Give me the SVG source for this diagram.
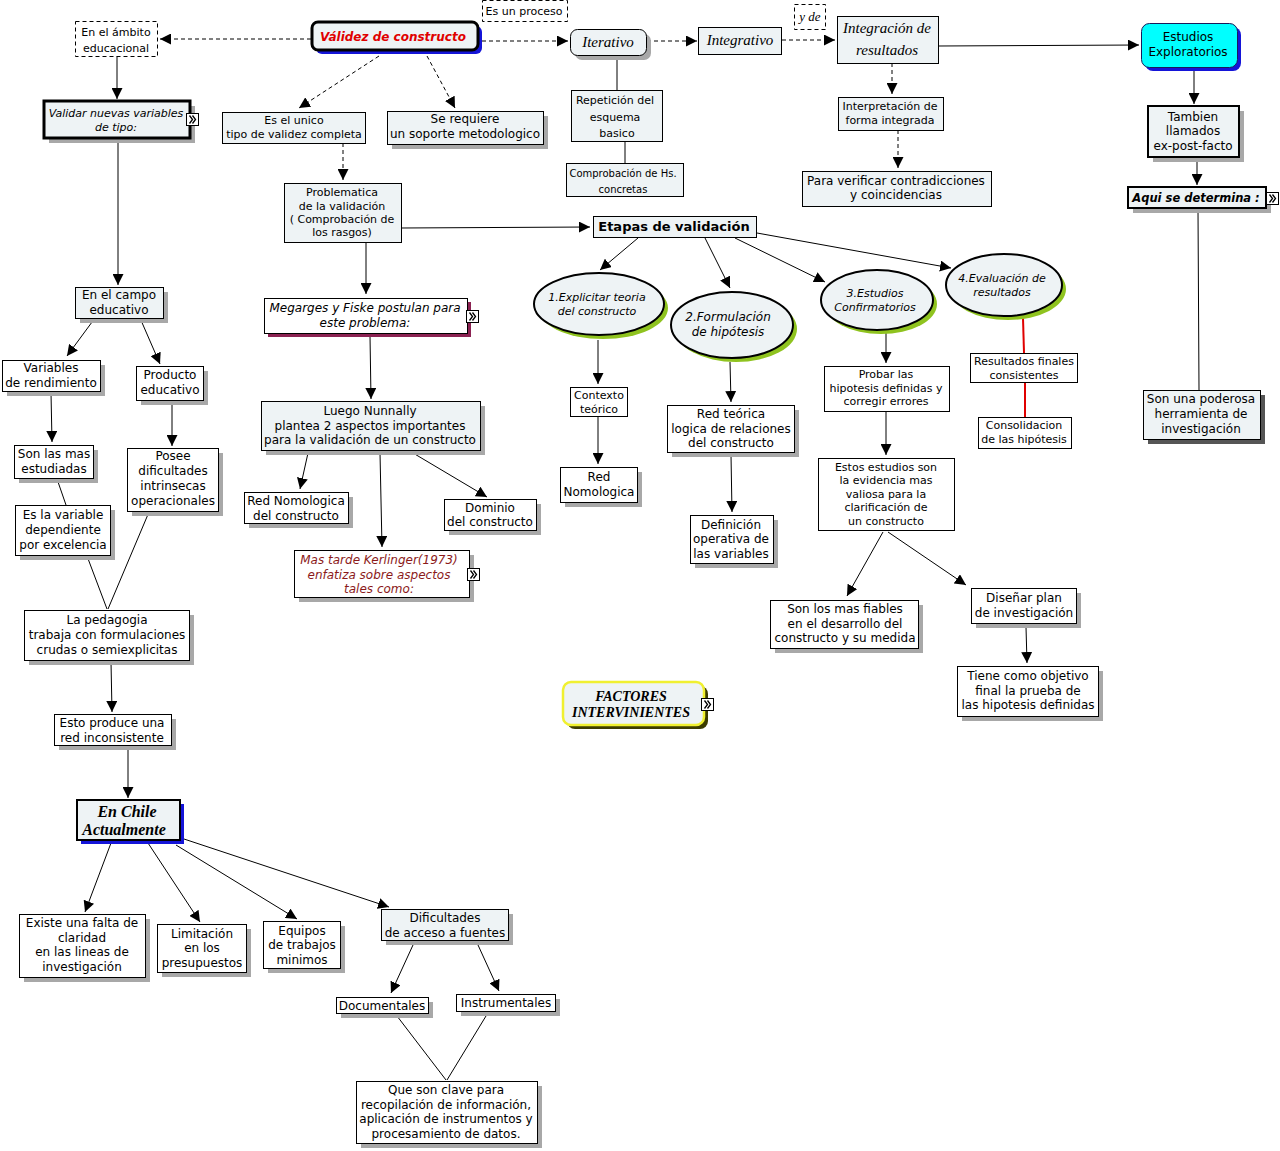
<svg xmlns="http://www.w3.org/2000/svg" width="1280" height="1151" viewBox="0 0 1280 1151">
<style>
.b{fill:#fff;stroke:#000;stroke-width:1}
.l{fill:#eef3f5;stroke:#000;stroke-width:1}
.d{stroke-dasharray:4,3}
.s{fill:#a8a8a8}
.t{font-family:"DejaVu Sans",Verdana,sans-serif;font-size:12px;fill:#000;text-anchor:middle}
.t11{font-size:11px}
.t10{font-size:10px}
.i{font-style:italic}
.bo{font-weight:bold}
.sc{font-family:"Liberation Serif",serif;font-style:italic;font-size:15px}
.sr{font-family:"Liberation Serif",serif;font-weight:bold;font-style:italic;font-size:16px}
.c{fill:none;stroke:#000;stroke-width:1}
.cd{fill:none;stroke:#000;stroke-width:1;stroke-dasharray:4,3}
.cr{fill:none;stroke:#e00000;stroke-width:2}
.ic{fill:#fff;stroke:#000;stroke-width:1}
.icp{fill:none;stroke:#000;stroke-width:1.3}
</style>
<defs>
<marker id="a" viewBox="0 0 10 10" refX="10" refY="5" markerWidth="11" markerHeight="11" markerUnits="userSpaceOnUse" orient="auto"><path d="M0,0 L10,5 L0,10 z" fill="#000"/></marker>
<g id="icon"><rect class="ic" x="0" y="0" width="12" height="12"/><path class="icp" d="M3,2 L6,6 L3,10 M6,2 L9,6 L6,10"/></g>
</defs>
<rect width="1280" height="1151" fill="#fff"/>

<g id="connectors">
<line class="cd" x1="311" y1="39" x2="160" y2="39" marker-end="url(#a)"/>
<line class="cd" x1="482" y1="41" x2="568" y2="41" marker-end="url(#a)"/>
<line class="cd" x1="647" y1="41" x2="697" y2="41" marker-end="url(#a)"/>
<line class="cd" x1="782" y1="40" x2="835" y2="40" marker-end="url(#a)"/>
<line class="c" x1="938" y1="46" x2="1139" y2="45" marker-end="url(#a)"/>
<line class="cd" x1="379" y1="56" x2="299" y2="108" marker-end="url(#a)"/>
<line class="cd" x1="427" y1="56" x2="455" y2="108" marker-end="url(#a)"/>
<line class="cd" x1="343" y1="143" x2="343" y2="180" marker-end="url(#a)"/>
<line class="c" x1="617" y1="55" x2="617" y2="90"/>
<line class="c" x1="625" y1="141" x2="625" y2="163"/>
<line class="cd" x1="892" y1="63" x2="892" y2="94" marker-end="url(#a)"/>
<line class="cd" x1="898" y1="130" x2="898" y2="168" marker-end="url(#a)"/>
<line class="c" x1="1194" y1="69" x2="1194" y2="104" marker-end="url(#a)"/>
<line class="c" x1="1197" y1="157" x2="1197" y2="185" marker-end="url(#a)"/>
<line class="c" x1="1198" y1="210" x2="1199" y2="390"/>
<line class="c" x1="117" y1="56" x2="117" y2="99" marker-end="url(#a)"/>
<line class="c" x1="118" y1="140" x2="118" y2="285" marker-end="url(#a)"/>
<line class="c" x1="95" y1="318" x2="67" y2="356" marker-end="url(#a)"/>
<line class="c" x1="140" y1="318" x2="160" y2="364" marker-end="url(#a)"/>
<line class="c" x1="51" y1="393" x2="52" y2="442" marker-end="url(#a)"/>
<line class="c" x1="172" y1="401" x2="172" y2="446" marker-end="url(#a)"/>
<line class="c" x1="57" y1="479" x2="66" y2="505"/>
<line class="c" x1="87" y1="556" x2="107" y2="609"/>
<line class="c" x1="149" y1="512" x2="108" y2="609"/>
<line class="c" x1="111" y1="662" x2="112" y2="712" marker-end="url(#a)"/>
<line class="c" x1="128" y1="747" x2="128" y2="798" marker-end="url(#a)"/>
<line class="c" x1="111" y1="843" x2="85" y2="912" marker-end="url(#a)"/>
<line class="c" x1="148" y1="843" x2="200" y2="922" marker-end="url(#a)"/>
<line class="c" x1="176" y1="845" x2="297" y2="919" marker-end="url(#a)"/>
<line class="c" x1="184" y1="839" x2="389" y2="907" marker-end="url(#a)"/>
<line class="c" x1="413" y1="945" x2="391" y2="993" marker-end="url(#a)"/>
<line class="c" x1="478" y1="945" x2="499" y2="991" marker-end="url(#a)"/>
<line class="c" x1="397" y1="1016" x2="446" y2="1080"/>
<line class="c" x1="486" y1="1016" x2="447" y2="1080"/>
<line class="c" x1="401" y1="228" x2="590" y2="227" marker-end="url(#a)"/>
<line class="c" x1="366" y1="242" x2="366" y2="294" marker-end="url(#a)"/>
<line class="c" x1="370" y1="336" x2="371" y2="399" marker-end="url(#a)"/>
<line class="c" x1="308" y1="453" x2="300" y2="489" marker-end="url(#a)"/>
<line class="c" x1="380" y1="453" x2="382" y2="547" marker-end="url(#a)"/>
<line class="c" x1="413" y1="453" x2="487" y2="497" marker-end="url(#a)"/>
<line class="c" x1="638" y1="238" x2="600" y2="270" marker-end="url(#a)"/>
<line class="c" x1="705" y1="238" x2="730" y2="288" marker-end="url(#a)"/>
<line class="c" x1="735" y1="238" x2="825" y2="282" marker-end="url(#a)"/>
<line class="c" x1="757" y1="233" x2="951" y2="268" marker-end="url(#a)"/>
<line class="c" x1="598" y1="340" x2="598" y2="384" marker-end="url(#a)"/>
<line class="c" x1="598" y1="416" x2="598" y2="464" marker-end="url(#a)"/>
<line class="c" x1="730" y1="362" x2="731" y2="402" marker-end="url(#a)"/>
<line class="c" x1="731" y1="455" x2="732" y2="512" marker-end="url(#a)"/>
<line class="c" x1="886" y1="333" x2="886" y2="363" marker-end="url(#a)"/>
<line class="c" x1="886" y1="411" x2="886" y2="455" marker-end="url(#a)"/>
<line class="c" x1="883" y1="532" x2="847" y2="596" marker-end="url(#a)"/>
<line class="c" x1="888" y1="532" x2="966" y2="585" marker-end="url(#a)"/>
<line class="c" x1="1026" y1="627" x2="1027" y2="663" marker-end="url(#a)"/>
<line class="cr" x1="1023" y1="318" x2="1024" y2="353"/>
<line class="cr" x1="1025" y1="382" x2="1025" y2="417"/>
</g>

<g id="n-ambito"><rect class="b d" x="75.5" y="21.5" width="82" height="35"/><text class="t t11"><tspan x="116" y="36">En el ámbito</tspan><tspan x="116" y="52">educacional</tspan></text></g>
<g id="n-validez"><rect x="316" y="26" width="166" height="28" rx="6" fill="#1414d8"/><rect class="l" x="312" y="22" width="166" height="28" rx="6" style="stroke-width:3"/><text class="t bo i" x="393" y="41" style="fill:#e00000">Válidez de constructo</text></g>
<g id="n-proceso"><rect class="b d" x="482.5" y="0.5" width="85" height="21"/><text class="t t11" x="524" y="15">Es un proceso</text></g>
<g id="n-iterativo"><rect class="s" x="575" y="34" width="76" height="26" rx="7"/><rect class="l" x="570.5" y="29.5" width="76" height="26" rx="7"/><text class="t sc" x="608" y="47">Iterativo</text></g>
<g id="n-integrativo"><rect class="l" x="698.5" y="27.5" width="83" height="27"/><text class="t sc" x="740" y="45">Integrativo</text></g>
<g id="n-yde"><rect class="b d" x="794.5" y="4.5" width="31" height="25"/><text class="t sc" x="810" y="21" style="font-size:13px">y de</text></g>
<g id="n-integracion"><rect class="l" x="837.5" y="16.5" width="101" height="47"/><text class="t sc"><tspan x="887" y="33">Integración de</tspan><tspan x="887" y="55">resultados</tspan></text></g>
<g id="n-exploratorios"><rect x="1145" y="27" width="96" height="44" rx="8" fill="#1414d8"/><rect x="1141.5" y="23.5" width="96" height="44" rx="8" fill="#00ffff" stroke="#1a1a5a"/><text class="t"><tspan x="1188" y="41">Estudios</tspan><tspan x="1188" y="56">Exploratorios</tspan></text></g>
<g id="n-validar"><rect class="s" x="49" y="106" width="146" height="37"/><rect class="l" x="44" y="101" width="146" height="37" style="stroke-width:3"/><text class="t t11 i"><tspan x="116" y="117">Validar nuevas variables</tspan><tspan x="116" y="131">de tipo:</tspan></text><use href="#icon" x="186.5" y="113.5"/></g>
<g id="n-unico"><rect class="l" x="222.5" y="112.5" width="143" height="31"/><text class="t t11"><tspan x="294" y="124">Es el unico</tspan><tspan x="294" y="138">tipo de validez completa</tspan></text></g>
<g id="n-requiere"><rect class="s" x="392" y="116" width="156" height="33"/><rect class="l" x="387.5" y="111.5" width="156" height="33"/><text class="t"><tspan x="465" y="123">Se requiere</tspan><tspan x="465" y="138">un soporte metodologico</tspan></text></g>
<g id="n-repeticion"><rect class="l" x="571.5" y="90.5" width="91" height="51"/><text class="t t11"><tspan x="615" y="104">Repetición del</tspan><tspan x="615" y="121">esquema</tspan><tspan x="617" y="137">basico</tspan></text></g>
<g id="n-comprobacion"><rect class="l" x="566.5" y="163.5" width="117" height="33"/><text class="t t10"><tspan x="623" y="177">Comprobación de Hs.</tspan><tspan x="623" y="193">concretas</tspan></text></g>
<g id="n-interpretacion"><rect class="l" x="838.5" y="97.5" width="105" height="33"/><text class="t t11"><tspan x="890" y="110">Interpretación de</tspan><tspan x="890" y="124">forma integrada</tspan></text></g>
<g id="n-verificar"><rect class="l" x="802.5" y="171.5" width="189" height="35"/><text class="t"><tspan x="896" y="185">Para verificar contradicciones</tspan><tspan x="896" y="199">y coincidencias</tspan></text></g>
<g id="n-tambien"><rect class="s" x="1153" y="111" width="91" height="51"/><rect class="l" x="1148" y="106" width="91" height="51" style="stroke-width:2"/><text class="t"><tspan x="1193" y="121">Tambien</tspan><tspan x="1193" y="135">llamados</tspan><tspan x="1193" y="150">ex-post-facto</tspan></text></g>
<g id="n-aqui"><rect class="s" x="1133" y="192" width="138" height="21"/><rect class="l" x="1128" y="187" width="138" height="21" style="stroke-width:2"/><text class="t bo i" x="1196" y="202" style="font-size:11.5px">Aqui se determina :</text><use href="#icon" x="1266.5" y="192.5"/></g>
<g id="n-problematica"><rect class="l" x="284.5" y="183.5" width="117" height="59"/><text class="t t11"><tspan x="342" y="196">Problematica</tspan><tspan x="342" y="210">de la validación</tspan><tspan x="342" y="223">( Comprobación de</tspan><tspan x="342" y="236">los rasgos)</tspan></text></g>
<g id="n-etapas"><rect class="l" x="593.5" y="216.5" width="163" height="21"/><text class="t bo" x="674" y="231" style="font-size:13px">Etapas de validación</text></g>
<g id="n-megarges"><rect x="268" y="302" width="203" height="35" fill="#8b2252"/><rect class="b" x="264.5" y="298.5" width="203" height="35"/><text class="t i"><tspan x="365" y="312">Megarges y Fiske postulan para</tspan><tspan x="365" y="327">este problema:</tspan></text><use href="#icon" x="466.5" y="310.5"/></g>
<g id="n-campo"><rect class="s" x="80" y="292" width="88" height="31"/><rect class="l" x="75.5" y="287.5" width="88" height="31"/><text class="t"><tspan x="119" y="299">En el campo</tspan><tspan x="119" y="314">educativo</tspan></text></g>
<g id="n-variables"><rect class="s" x="7" y="365" width="98" height="31"/><rect class="b" x="2.5" y="360.5" width="98" height="31"/><text class="t"><tspan x="51" y="372">Variables</tspan><tspan x="51" y="387">de rendimiento</tspan></text></g>
<g id="n-producto"><rect class="s" x="141" y="371" width="67" height="34"/><rect class="b" x="136.5" y="366.5" width="67" height="34"/><text class="t"><tspan x="170" y="379">Producto</tspan><tspan x="170" y="394">educativo</tspan></text></g>
<g id="n-estudiadas"><rect class="s" x="19" y="450" width="79" height="33"/><rect class="b" x="14.5" y="445.5" width="79" height="33"/><text class="t"><tspan x="54" y="458">Son las mas</tspan><tspan x="54" y="473">estudiadas</tspan></text></g>
<g id="n-posee"><rect class="s" x="132" y="453" width="91" height="63"/><rect class="b" x="127.5" y="448.5" width="91" height="63"/><text class="t"><tspan x="173" y="460">Posee</tspan><tspan x="173" y="475">dificultades</tspan><tspan x="173" y="490">intrinsecas</tspan><tspan x="173" y="505">operacionales</tspan></text></g>
<g id="n-dependiente"><rect class="s" x="20" y="510" width="95" height="50"/><rect class="b" x="15.5" y="505.5" width="95" height="50"/><text class="t"><tspan x="63" y="519">Es la variable</tspan><tspan x="63" y="534">dependiente</tspan><tspan x="63" y="549">por excelencia</tspan></text></g>
<g id="n-pedagogia"><rect class="s" x="29" y="615" width="165" height="50"/><rect class="b" x="24.5" y="610.5" width="165" height="50"/><text class="t"><tspan x="107" y="624">La pedagogia</tspan><tspan x="107" y="639">trabaja con formulaciones</tspan><tspan x="107" y="654">crudas o semiexplicitas</tspan></text></g>
<g id="n-esto"><rect class="s" x="59" y="719" width="117" height="31"/><rect class="b" x="54.5" y="714.5" width="117" height="31"/><text class="t"><tspan x="112" y="727">Esto produce una</tspan><tspan x="112" y="742">red inconsistente</tspan></text></g>
<g id="n-chile"><rect x="81" y="804" width="103" height="40" fill="#1414d8"/><rect class="l" x="77" y="800" width="103" height="40" style="stroke-width:2"/><text class="t sr"><tspan x="127" y="817">En Chile</tspan><tspan x="124" y="835">Actualmente</tspan></text></g>
<g id="n-existe"><rect class="s" x="24" y="919" width="126" height="63"/><rect class="b" x="19.5" y="914.5" width="126" height="63"/><text class="t"><tspan x="82" y="927">Existe una falta de</tspan><tspan x="82" y="942">claridad</tspan><tspan x="82" y="956">en las lineas de</tspan><tspan x="82" y="971">investigación</tspan></text></g>
<g id="n-limitacion"><rect class="s" x="162" y="929" width="89" height="48"/><rect class="b" x="157.5" y="924.5" width="89" height="48"/><text class="t"><tspan x="202" y="938">Limitación</tspan><tspan x="202" y="952">en los</tspan><tspan x="202" y="967">presupuestos</tspan></text></g>
<g id="n-equipos"><rect class="s" x="268" y="926" width="77" height="47"/><rect class="b" x="263.5" y="921.5" width="77" height="47"/><text class="t"><tspan x="302" y="935">Equipos</tspan><tspan x="302" y="949">de trabajos</tspan><tspan x="302" y="964">minimos</tspan></text></g>
<g id="n-dificultades"><rect class="s" x="386" y="914" width="127" height="31"/><rect class="l" x="381.5" y="909.5" width="127" height="31"/><text class="t"><tspan x="445" y="922">Dificultades</tspan><tspan x="445" y="937">de acceso a fuentes</tspan></text></g>
<g id="n-documentales"><rect class="s" x="341" y="1002" width="92" height="16"/><rect class="b" x="336.5" y="997.5" width="92" height="16"/><text class="t" x="382" y="1010">Documentales</text></g>
<g id="n-instrumentales"><rect class="s" x="461" y="999" width="99" height="17"/><rect class="b" x="456.5" y="994.5" width="99" height="17"/><text class="t" x="506" y="1007">Instrumentales</text></g>
<g id="n-clave"><rect class="s" x="361" y="1086" width="181" height="62"/><rect class="b" x="356.5" y="1081.5" width="181" height="62"/><text class="t"><tspan x="446" y="1094">Que son clave para</tspan><tspan x="446" y="1109">recopilación de información,</tspan><tspan x="446" y="1123">aplicación de instrumentos y</tspan><tspan x="446" y="1138">procesamiento de datos.</tspan></text></g>
<g id="n-nunnally"><rect class="s" x="266" y="406" width="219" height="49"/><rect class="l" x="261.5" y="401.5" width="219" height="49"/><text class="t"><tspan x="370" y="415">Luego Nunnally</tspan><tspan x="370" y="430">plantea 2 aspectos importantes</tspan><tspan x="370" y="444">para la validación de un constructo</tspan></text></g>
<g id="n-rednomo1"><rect class="s" x="249" y="497" width="104" height="31"/><rect class="b" x="244.5" y="492.5" width="104" height="31"/><text class="t"><tspan x="296" y="505">Red Nomologica</tspan><tspan x="296" y="520">del constructo</tspan></text></g>
<g id="n-dominio"><rect class="s" x="449" y="504" width="92" height="31"/><rect class="b" x="444.5" y="499.5" width="92" height="31"/><text class="t"><tspan x="490" y="512">Dominio</tspan><tspan x="490" y="526">del constructo</tspan></text></g>
<g id="n-kerlinger"><rect class="s" x="299" y="555" width="175" height="47"/><rect class="b" x="294.5" y="550.5" width="175" height="47"/><text class="t i" style="fill:#8b1a1a"><tspan x="379" y="564">Mas tarde Kerlinger(1973)</tspan><tspan x="379" y="579">enfatiza sobre aspectos</tspan><tspan x="379" y="593">tales como:</tspan></text><use href="#icon" x="467.5" y="568.5"/></g>
<g id="n-e1"><ellipse cx="603" cy="308" rx="65" ry="31" fill="#8fc31f"/><ellipse cx="599" cy="304" rx="65" ry="31" fill="#eef3f5" stroke="#000" stroke-width="2"/><text class="t t11 i"><tspan x="597" y="301">1.Explicitar teoria</tspan><tspan x="597" y="315">del constructo</tspan></text></g>
<g id="n-e2"><ellipse cx="736" cy="329" rx="61" ry="33" fill="#8fc31f"/><ellipse cx="732" cy="325" rx="61" ry="33" fill="#eef3f5" stroke="#000" stroke-width="2"/><text class="t i"><tspan x="728" y="321">2.Formulación</tspan><tspan x="728" y="336">de hipótesis</tspan></text></g>
<g id="n-e3"><ellipse cx="881" cy="304" rx="56" ry="30" fill="#8fc31f"/><ellipse cx="877" cy="300" rx="56" ry="30" fill="#eef3f5" stroke="#000" stroke-width="2"/><text class="t t11 i"><tspan x="875" y="297">3.Estudios</tspan><tspan x="875" y="311">Confirmatorios</tspan></text></g>
<g id="n-e4"><ellipse cx="1008" cy="289" rx="58" ry="31" fill="#8fc31f"/><ellipse cx="1004" cy="285" rx="58" ry="31" fill="#eef3f5" stroke="#000" stroke-width="2"/><text class="t t11 i"><tspan x="1002" y="282">4.Evaluación de</tspan><tspan x="1002" y="296">resultados</tspan></text></g>
<g id="n-contexto"><rect class="b" x="570.5" y="387.5" width="57" height="29"/><text class="t t11"><tspan x="599" y="399">Contexto</tspan><tspan x="599" y="413">teórico</tspan></text></g>
<g id="n-rednomo2"><rect class="s" x="565" y="472" width="77" height="35"/><rect class="b" x="560.5" y="467.5" width="77" height="35"/><text class="t"><tspan x="599" y="481">Red</tspan><tspan x="599" y="496">Nomologica</tspan></text></g>
<g id="n-redteorica"><rect class="s" x="672" y="410" width="127" height="47"/><rect class="b" x="667.5" y="405.5" width="127" height="47"/><text class="t"><tspan x="731" y="418">Red teórica</tspan><tspan x="731" y="433">logica de relaciones</tspan><tspan x="731" y="447">del constructo</tspan></text></g>
<g id="n-definicion"><rect class="s" x="695" y="520" width="83" height="48"/><rect class="b" x="690.5" y="515.5" width="83" height="48"/><text class="t"><tspan x="731" y="529">Definición</tspan><tspan x="731" y="543">operativa de</tspan><tspan x="731" y="558">las variables</tspan></text></g>
<g id="n-probar"><rect class="b" x="824.5" y="366.5" width="125" height="45"/><text class="t t11"><tspan x="886" y="378">Probar las</tspan><tspan x="886" y="392">hipotesis definidas y</tspan><tspan x="886" y="405">corregir errores</tspan></text></g>
<g id="n-estos"><rect class="b" x="818.5" y="458.5" width="136" height="72"/><text class="t t11"><tspan x="886" y="471">Estos estudios son</tspan><tspan x="886" y="484">la evidencia mas</tspan><tspan x="886" y="498">valiosa para la</tspan><tspan x="886" y="511">clarificación de</tspan><tspan x="886" y="525">un constructo</tspan></text></g>
<g id="n-fiables"><rect class="s" x="775" y="605" width="148" height="48"/><rect class="b" x="770.5" y="600.5" width="148" height="48"/><text class="t"><tspan x="845" y="613">Son los mas fiables</tspan><tspan x="845" y="628">en el desarrollo del</tspan><tspan x="845" y="642">constructo y su medida</tspan></text></g>
<g id="n-disenar"><rect class="s" x="976" y="593" width="105" height="35"/><rect class="b" x="971.5" y="588.5" width="105" height="35"/><text class="t"><tspan x="1024" y="602">Diseñar plan</tspan><tspan x="1024" y="617">de investigación</tspan></text></g>
<g id="n-tiene"><rect class="s" x="962" y="671" width="141" height="50"/><rect class="b" x="957.5" y="666.5" width="141" height="50"/><text class="t"><tspan x="1028" y="680">Tiene como objetivo</tspan><tspan x="1028" y="695">final la prueba de</tspan><tspan x="1028" y="709">las hipotesis definidas</tspan></text></g>
<g id="n-resultados"><rect class="b" x="970.5" y="353.5" width="107" height="29"/><text class="t t11"><tspan x="1024" y="365">Resultados finales</tspan><tspan x="1024" y="379">consistentes</tspan></text></g>
<g id="n-consolidacion"><rect class="b" x="978.5" y="417.5" width="93" height="31"/><text class="t t11"><tspan x="1024" y="429">Consolidacion</tspan><tspan x="1024" y="443">de las hipótesis</tspan></text></g>
<g id="n-poderosa"><rect x="1148" y="395" width="117" height="49" fill="#555"/><rect class="l" x="1143.5" y="390.5" width="117" height="49"/><text class="t"><tspan x="1201" y="403">Son una poderosa</tspan><tspan x="1201" y="418">herramienta de</tspan><tspan x="1201" y="433">investigación</tspan></text></g>
<g id="n-factores"><rect x="567" y="686" width="141" height="43" rx="8" fill="#3c3c00"/><rect x="563" y="682" width="141" height="43" rx="8" fill="#eef3f5" stroke="#f0f030" stroke-width="2.5"/><text class="t sr" style="font-size:14px"><tspan x="631" y="701">FACTORES</tspan><tspan x="631" y="717">INTERVINIENTES</tspan></text><use href="#icon" x="701.5" y="698.5"/></g>
</svg>
